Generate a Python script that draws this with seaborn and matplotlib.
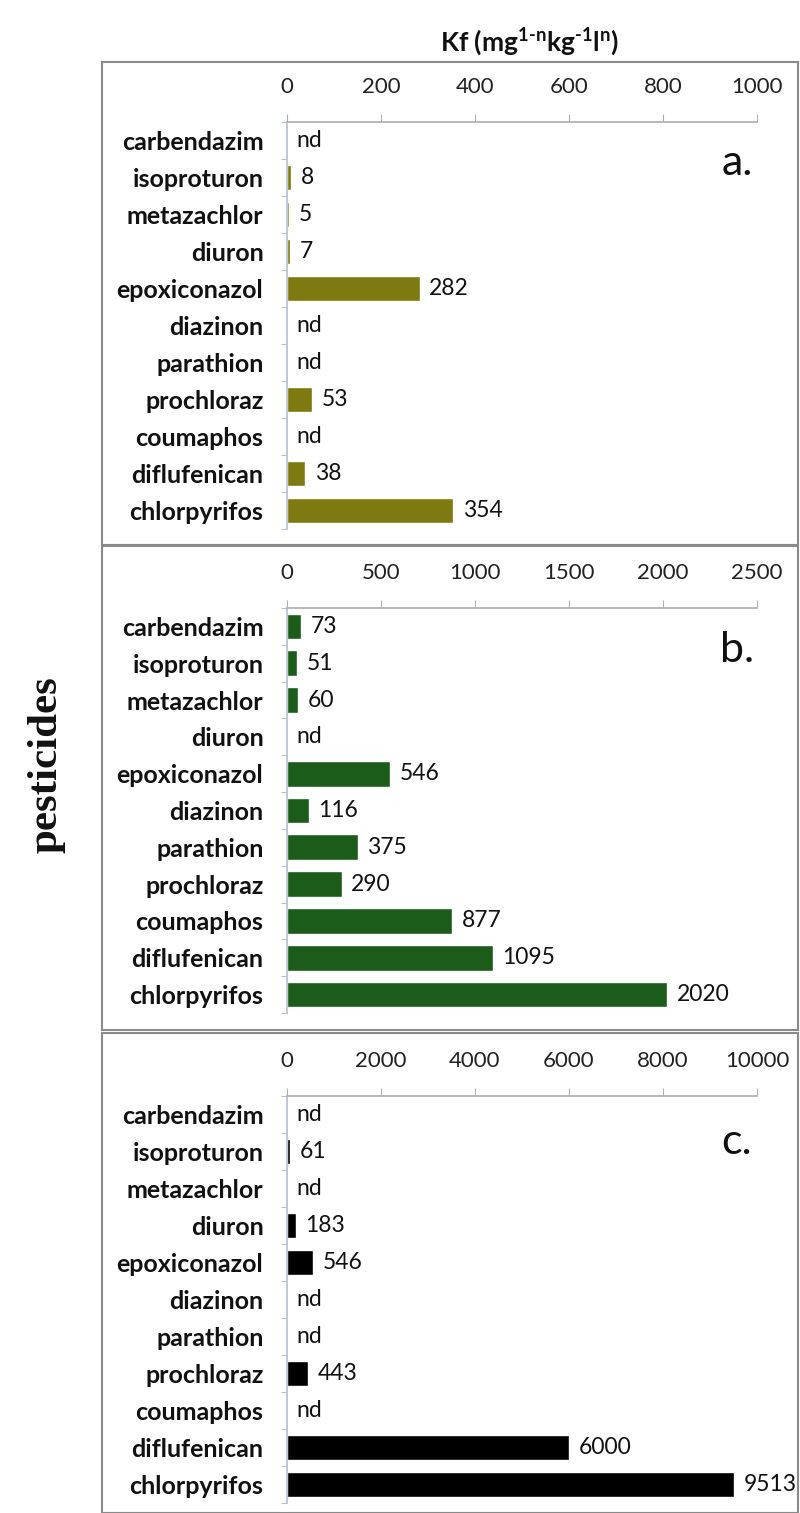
import numpy as np
import pandas as pd
import matplotlib
matplotlib.use('Agg')
import matplotlib.pyplot as plt
import seaborn as sns
from matplotlib.patches import Rectangle
from matplotlib.ticker import FixedLocator

# data (0 = "nd", not detected)
pesticides = ['carbendazim', 'isoproturon', 'metazachlor', 'diuron', 'epoxiconazol',
              'diazinon', 'parathion', 'prochloraz', 'coumaphos', 'diflufenican', 'chlorpyrifos']
kf_a = [0, 8, 5, 7, 282, 0, 0, 53, 0, 38, 354]
kf_b = [73, 51, 60, 0, 546, 116, 375, 290, 877, 1095, 2020]
kf_c = [0, 61, 0, 183, 546, 0, 0, 443, 0, 6000, 9513]
panel_letters = ['a.', 'b.', 'c.']
x_max = [1000, 2500, 10000]
x_step = [200, 500, 2000]
colors = ['#7c7a10', '#1b5c1b', '#000000']

sns.set_theme(style='white')
plt.rcParams['font.family'] = ['Lato', 'DejaVu Sans']
plt.rcParams['mathtext.fontset'] = 'custom'
plt.rcParams['mathtext.bf'] = 'Lato:bold'
plt.rcParams['mathtext.rm'] = 'Lato:bold'

W, H = 800, 1513
fig = plt.figure(figsize=(W / 100, H / 100), dpi=100)

# panel geometry in pixels: axes top/bottom, box top/bottom
ax_top = [122, 608, 1096]
ax_bot = [529, 1013, 1503]
box_top = [62, 546, 1033]
box_bot = [545, 1030, 1513]
letter_y = [163, 650, 1142]
x0, x1 = 287, 757

for i, vals in enumerate([kf_a, kf_b, kf_c]):
    # panel border
    fig.add_artist(Rectangle((102 / W, 1 - box_bot[i] / H), (798 - 102) / W,
                             (box_bot[i] - box_top[i]) / H, transform=fig.transFigure,
                             fill=False, edgecolor='#8a8a8a', linewidth=1.5))
    ax = fig.add_axes([x0 / W, 1 - ax_bot[i] / H, (x1 - x0) / W, (ax_bot[i] - ax_top[i]) / H])
    df = pd.DataFrame({'pesticide': pesticides, 'kf': vals})
    sns.barplot(data=df, x='kf', y='pesticide', orient='h', color=colors[i],
                width=0.7, saturation=1, ax=ax)
    ax.set_xlim(0, x_max[i])
    ax.set_ylim(10.5, -0.5)
    ax.set_xticks(np.arange(0, x_max[i] + 1, x_step[i]))
    ax.xaxis.tick_top()
    ax.tick_params(axis='x', top=True, bottom=False, length=6, width=0.8,
                   color='#b0b0b0', direction='out', pad=12, labelsize=16, labelcolor='#222222')
    ax.set_yticks(range(len(pesticides)))
    ax.set_yticklabels(pesticides, fontweight='bold', fontsize=18, color='#111111')
    ax.tick_params(axis='y', which='major', length=0, pad=17)
    ax.yaxis.set_minor_locator(FixedLocator(np.arange(-0.5, 11, 1)))
    ax.tick_params(axis='y', which='minor', left=True, length=4, width=0.8, color='#b8c0d0')
    for s in ['right', 'bottom']:
        ax.spines[s].set_visible(False)
    ax.spines['top'].set_color('#b0b0b0')
    ax.spines['left'].set_color('#b8c0d0')
    ax.set_xlabel('')
    ax.set_ylabel('')
    labels = ['nd' if v == 0 else str(v) for v in vals]
    ax.bar_label(ax.containers[0], labels=labels, padding=7, fontsize=16.5, color='#111111')
    fig.text(737 / W, 1 - letter_y[i] / H, panel_letters[i], fontsize=31,
             ha='center', va='center', color='#111111')

fig.text(530 / W, 1 - 42 / H,
         r'Kf (mg$^{\mathbf{1\text{-}n}}$kg$^{\mathbf{\text{-}1}}$l$^{\mathbf{n}}$)',
         ha='center', va='center', fontsize=19, fontweight='bold', color='#111111')
fig.text(46 / W, 1 - 765 / H, 'pesticides', rotation=90, ha='center', va='center',
         fontsize=31, fontweight='bold', family=['Liberation Serif', 'DejaVu Serif'],
         color='#111111')

fig.savefig('out.png', dpi=100)
